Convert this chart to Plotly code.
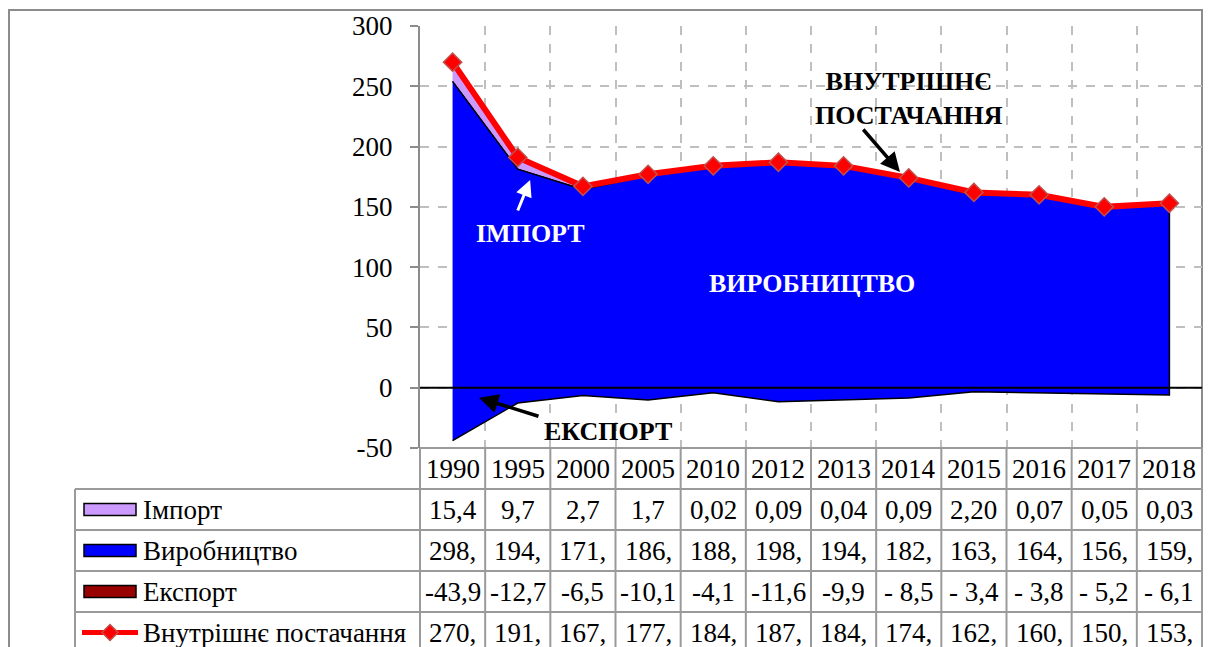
import plotly.graph_objects as go

# ---------------------------------------------------------------------------
# Data (million t)
# ---------------------------------------------------------------------------
years = ["1990", "1995", "2000", "2005", "2010", "2012",
         "2013", "2014", "2015", "2016", "2017", "2018"]
imports = [15.4, 9.7, 2.7, 1.7, 0.02, 0.09, 0.04, 0.09, 2.20, 0.07, 0.05, 0.03]
production = [298, 194, 171, 186, 188, 198, 194, 182, 163, 164, 156, 159]
exports = [-43.9, -12.7, -6.5, -10.1, -4.1, -11.6, -9.9, -8.5, -3.4, -3.8, -5.2, -6.1]
supply = [270, 191, 167, 177, 184, 187, 184, 174, 162, 160, 150, 153]

# Cell texts exactly as printed in the table
import_labels = ["15,4", "9,7", "2,7", "1,7", "0,02", "0,09",
                 "0,04", "0,09", "2,20", "0,07", "0,05", "0,03"]
production_labels = [f"{v}," for v in production]
export_labels = ["-43,9", "-12,7", "-6,5", "-10,1", "-4,1", "-11,6",
                 "-9,9", "- 8,5", "- 3,4", "- 3,8", "- 5,2", "- 6,1"]
supply_labels = [f"{v}," for v in supply]

row_names = ["Імпорт", "Виробництво", "Експорт", "Внутрішнє постачання"]

y_ticks = [-50, 0, 50, 100, 150, 200, 250, 300]
y_tick_labels = ["-50", "0", "50", "100", "150", "200", "250", "300"]

_COLORS = {
    "blue": "#0000FF",
    "lilac": "#CC99FF",
    "maroon": "#990000",
    "red": "#FF0000",
    "marker_edge": "#C0504D",
    "grid": "#BFBFBF",
    "table": "#9A9A9A",
}
FONT = "'Liberation Serif', 'Times New Roman', 'DejaVu Serif', serif"

# ---------------------------------------------------------------------------
# Page geometry (pixels)
# ---------------------------------------------------------------------------
W, H = 1209, 647
PLOT_L, PLOT_R, PLOT_T, PLOT_B = 420, 1202, 26, 448
PLOT_W, PLOT_H = PLOT_R - PLOT_L, PLOT_B - PLOT_T
ROW_H = 41
TABLE_L = 75


def px_x(px):
    return (px - PLOT_L) / PLOT_W


def px_y(py):
    return (PLOT_B - py) / PLOT_H


def row_mid(k):
    return px_y(PLOT_B + (k + 0.5) * ROW_H)


top_prod = [p + e for p, e in zip(production, exports)]
top_import = [t + i for t, i in zip(top_prod, imports)]

fig = go.Figure()

# Import band (between production top and production top + import)
fig.add_trace(
    go.Scatter(
        x=years + years[::-1],
        y=top_import + top_prod[::-1],
        fill="toself",
        fillcolor=_COLORS["lilac"],
        line={"color": "black", "width": 1},
        mode="lines",
        hoverinfo="skip",
    )
)
# Production area, running down to the export level
fig.add_trace(
    go.Scatter(
        x=years + years[::-1],
        y=top_prod + exports[::-1],
        fill="toself",
        fillcolor=_COLORS["blue"],
        line={"color": "black", "width": 1.5},
        mode="lines",
        hoverinfo="skip",
    )
)
# Domestic supply
fig.add_trace(
    go.Scatter(
        x=years,
        y=supply,
        mode="lines+markers",
        line={"color": _COLORS["red"], "width": 6},
        marker={
            "symbol": "diamond",
            "size": 14,
            "color": _COLORS["red"],
            "line": {"color": _COLORS["marker_edge"], "width": 1.5},
        },
    )
)

shapes = []
# zero line above the areas
shapes.append(dict(type="line", xref="paper", yref="y", x0=0, x1=1, y0=0, y1=0,
                   line={"color": "black", "width": 2}, layer="above"))
# chart frame
shapes.append(dict(type="rect", xref="paper", yref="paper",
                   x0=px_x(9), x1=px_x(PLOT_R), y0=px_y(H + 20), y1=px_y(10),
                   line={"color": "#8C8C8C", "width": 2}, layer="below"))
# table grid
n = len(years)
for k in range(n + 1):
    shapes.append(dict(type="line", xref="paper", yref="paper",
                       x0=k / n, x1=k / n, y0=px_y(H + 20), y1=0,
                       line={"color": _COLORS["table"], "width": 2}))
shapes.append(dict(type="line", xref="paper", yref="paper",
                   x0=0, x1=1, y0=0, y1=0,
                   line={"color": _COLORS["table"], "width": 2}))
for k in range(1, len(row_names) + 1):
    shapes.append(dict(type="line", xref="paper", yref="paper",
                       x0=px_x(TABLE_L), x1=1, y0=px_y(PLOT_B + k * ROW_H),
                       y1=px_y(PLOT_B + k * ROW_H),
                       line={"color": _COLORS["table"], "width": 2}))
shapes.append(dict(type="line", xref="paper", yref="paper",
                   x0=px_x(TABLE_L), x1=px_x(TABLE_L), y0=px_y(H + 20),
                   y1=px_y(PLOT_B + ROW_H),
                   line={"color": _COLORS["table"], "width": 2}))

# legend keys inside the table
key_fill = [_COLORS["lilac"], _COLORS["blue"], _COLORS["maroon"]]
for k, color in enumerate(key_fill, start=1):
    ym = PLOT_B + (k + 0.5) * ROW_H
    shapes.append(dict(type="rect", xref="paper", yref="paper",
                       x0=px_x(84), x1=px_x(136), y0=px_y(ym + 6), y1=px_y(ym - 6),
                       fillcolor=color, line={"color": "black", "width": 1.5}))
ym = PLOT_B + 4.5 * ROW_H
shapes.append(dict(type="line", xref="paper", yref="paper",
                   x0=px_x(82), x1=px_x(138), y0=px_y(ym), y1=px_y(ym),
                   line={"color": _COLORS["red"], "width": 5}))
cx, d = 110, 8
shapes.append(dict(
    type="path", xref="paper", yref="paper",
    path=(f"M {px_x(cx - d)},{px_y(ym)} L {px_x(cx)},{px_y(ym - d)} "
          f"L {px_x(cx + d)},{px_y(ym)} L {px_x(cx)},{px_y(ym + d)} Z"),
    fillcolor=_COLORS["red"], line={"color": _COLORS["marker_edge"], "width": 1.5}))

annotations = []
cell_font = {"family": FONT, "size": 27, "color": "black"}
# year header and value cells (x given as category index)
table_rows = [years, import_labels, production_labels, export_labels, supply_labels]
for k, labels in enumerate(table_rows):
    for idx, txt in enumerate(labels):
        annotations.append(dict(x=idx, xref="x", y=row_mid(k), yref="paper",
                                text=txt, showarrow=False, font=cell_font,
                                xanchor="center", yanchor="middle"))
for k, name in enumerate(row_names, start=1):
    annotations.append(dict(x=px_x(141), xref="paper", y=row_mid(k), yref="paper",
                            text=name, showarrow=False, font=cell_font,
                            xanchor="left", yanchor="middle"))

# in-chart labels and arrows
bold_black = {"family": FONT, "size": 26, "color": "black"}
bold_white = {"family": FONT, "size": 26, "color": "white"}
annotations += [
    dict(x=5.515, y=86.6, text="<b>ВИРОБНИЦТВО</b>", showarrow=False, font=bold_white),
    dict(x=1.19, y=127.5, text="<b>ІМПОРТ</b>", showarrow=False, font=bold_white),
    dict(x=2.385, y=-36.7, text="<b>ЕКСПОРТ</b>", showarrow=False, font=bold_black),
    dict(x=7.0, y=239.5, text="<b>ВНУТРІШНЄ<br>ПОСТАЧАННЯ</b>", showarrow=False,
         font=bold_black),
    dict(x=0.405, y=-8.3, text="", showarrow=True, ax=61, ay=19,
         arrowhead=2, arrowsize=1.1, arrowwidth=3.5, arrowcolor="black"),
    dict(x=1.19, y=172.3, text="", showarrow=True, ax=-13, ay=32,
         arrowhead=2, arrowsize=1.1, arrowwidth=3, arrowcolor="white"),
    dict(x=6.865, y=178.9, text="", showarrow=True, ax=-38, ay=-44,
         arrowhead=2, arrowsize=1.1, arrowwidth=3.5, arrowcolor="black"),
]

fig.update_layout(
    width=W,
    height=H,
    margin={"l": PLOT_L, "r": W - PLOT_R, "t": PLOT_T, "b": H - PLOT_B},
    paper_bgcolor="white",
    plot_bgcolor="white",
    showlegend=False,
    font={"family": FONT, "size": 27, "color": "black"},
    shapes=shapes,
    annotations=annotations,
    xaxis={
        "type": "category",
        "range": [-0.5, n - 0.5],
        "tickson": "boundaries",
        "showgrid": True,
        "gridcolor": _COLORS["grid"],
        "griddash": "dash",
        "gridwidth": 1.5,
        "showticklabels": False,
        "ticks": "",
        "zeroline": False,
        "showline": False,
    },
    yaxis={
        "range": [-50, 300],
        "tickmode": "array",
        "tickvals": y_ticks,
        "ticktext": y_tick_labels,
        "showgrid": True,
        "gridcolor": _COLORS["grid"],
        "griddash": "dash",
        "gridwidth": 1.5,
        "zeroline": False,
        "showline": True,
        "linecolor": "#8C8C8C",
        "linewidth": 2,
        "ticks": "outside",
        "ticklen": 8,
        "tickwidth": 2,
        "tickcolor": "#8C8C8C",
        "ticklabelstandoff": 12,
        "tickfont": {"family": FONT, "size": 27, "color": "black"},
    },
)

# the page body has a default 8px margin; drop it so the figure sits at 0,0
fig.write_html(
    "out.html",
    config={"displayModeBar": False},
    post_script="document.body.style.margin='0';",
)
